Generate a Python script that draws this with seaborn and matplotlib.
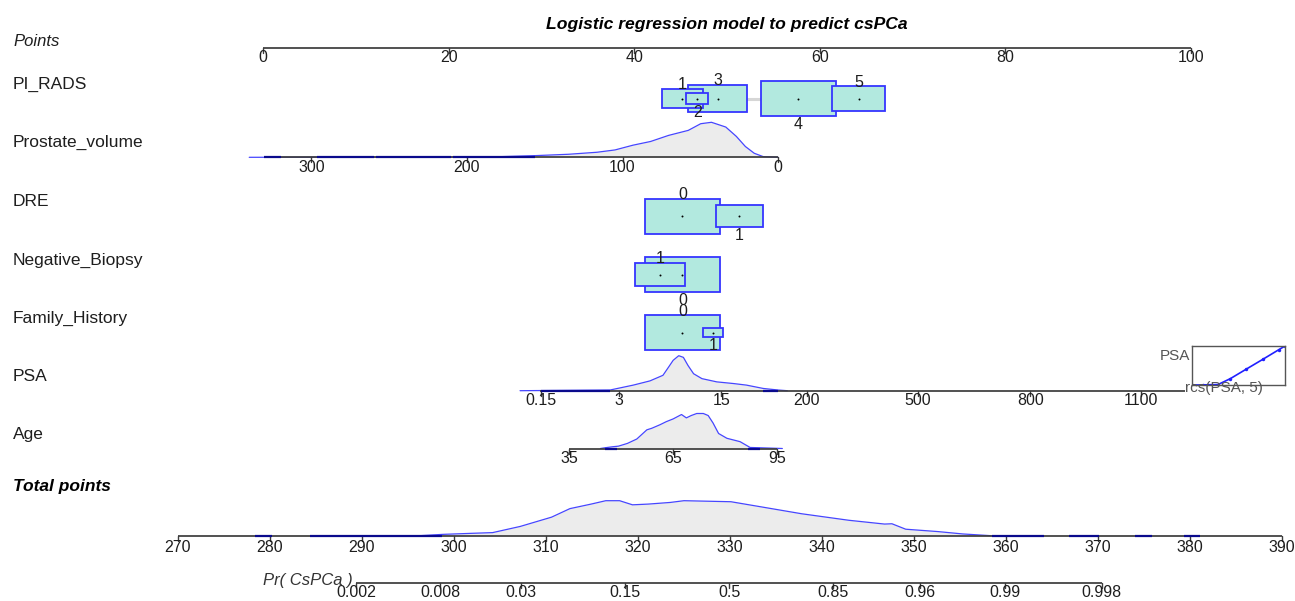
import numpy as np
import matplotlib
matplotlib.use("Agg")
import matplotlib.pyplot as plt
from matplotlib.patches import Rectangle
import seaborn as sns

# ---------------------------------------------------------------- data
title = "Logistic regression model to predict csPCa"
points_ticks = [0, 20, 40, 60, 80, 100]

# categorical predictors: level labels, point contribution, patient counts
pirads_levels = ["1", "2", "3", "4", "5"]
pirads_points = [45.2, 46.8, 49.0, 57.7, 64.2]
pirads_counts = [119, 34, 247, 400, 200]

dre_levels = ["0", "1"]
dre_points = [45.2, 51.3]
dre_counts = [718, 282]

biopsy_levels = ["0", "1"]
biopsy_points = [45.2, 42.8]
biopsy_counts = [692, 308]

family_levels = ["0", "1"]
family_points = [45.2, 48.5]
family_counts = [934, 66]

# prostate volume (ml), linear contribution
volume_ticks = [300, 200, 100, 0]
volume_range = [0, 330]
volume_points_at_zero = 55.5
volume_points_per_ml = -0.1676
volume_grid = [0, 9.6, 15.3, 21, 26.8, 33.6, 42.8, 49.7, 57.7, 70.4, 81.9,
               93.3, 104.8, 116.4, 134.7, 155.4, 185.2, 340]
volume_density = [0, 0.7, 4, 10.7, 20.7, 30, 34.7, 33.3, 26.7, 21.7, 15.7,
                  12, 7.3, 5, 3, 1.7, 0.3, 0]
volume_sparse = [(319.6, 330.5), (259.8, 296.6), (210.5, 258.7), (156.5, 209.3)]

# PSA, restricted cubic spline (5 knots) contribution
psa_ticks = [0.15, 3, 15, 200, 500, 800, 1100]
psa_tick_points = [30.0, 38.4, 49.4, 58.6, 70.6, 82.7, 94.6]
psa_range = [0.1, 1220]
psa_range_points = [29.9, 99.4]
psa_density_points = [27.7, 37.4, 39.9, 41.7, 43.1, 43.7, 44.2, 44.8, 45.3,
                      45.8, 46.4, 47.3, 48.9, 50.7, 52.1, 53.9, 55.5, 56.5]
psa_density = [0, 0.7, 5.7, 10, 15.7, 24, 31, 35.7, 34, 25.7, 17.3, 12.3,
               9, 7.3, 5.7, 2.3, 0.7, 0]
psa_sparse_points = [(30.0, 37.4), (53.9, 55.5)]

# age (years), linear contribution
age_ticks = [35, 65, 95]
age_range = [35, 95]
age_points_at_35 = 33.0
age_points_per_year = 0.3734
age_grid = [44, 45.3, 47.5, 49.2, 51.8, 54.5, 57.4, 58.8, 61.2, 63.0, 65,
            67.4, 68.8, 70.2, 71.8, 73.7, 75.1, 76.5, 78.1, 80.5, 84.3,
            87.2, 90.1, 96.5]
age_density = [0, 0.7, 1.7, 2.3, 5.0, 9.3, 18.3, 19.8, 23.3, 26.3, 29.0,
               33.3, 30.0, 32.3, 34.3, 34.3, 32.3, 25.0, 14.7, 10.0, 6.7,
               1.0, 0.7, 0]
age_sparse = [(45.3, 48.7), (86.5, 90.0)]

# total points
total_ticks = [270, 280, 290, 300, 310, 320, 330, 340, 350, 360, 370, 380, 390]
total_grid = [296.3, 298.8, 301.9, 304.2, 307.2, 310.6, 312.6, 314.9, 316.5,
              318.0, 319.4, 321.1, 323.5, 325.0, 330.1, 333.2, 337.8, 342.9,
              346.8, 347.6, 349.1, 352.6, 355.3, 358.4]
total_density = [0, 1.3, 2.3, 3, 9, 18, 26.3, 30.7, 34, 34, 30, 30.7, 32.3,
                 34, 33, 28.3, 21.3, 15, 11.3, 11.6, 6.3, 4, 1.7, 0]
total_sparse = [(278.4, 280.2), (284.4, 298.7), (358.5, 364.1),
                (366.8, 370.1), (374.0, 375.9), (379.4, 381.1)]

# predicted probability
prob_ticks = [0.002, 0.008, 0.03, 0.15, 0.5, 0.85, 0.96, 0.99, 0.998]
prob_total_at_half = 329.9
prob_total_per_logit = 6.52

# ---------------------------------------------------------------- layout / style
W, H, DPI = 1295, 601, 100
AX_LEFT_PX = 263.0
PX_PER_POINT = 9.28
TOTAL_X0 = -9.16          # total-points 270 on the points scale
TOTAL_STEP = 0.9914       # points-scale units per total point

ROW_Y = {"Points": 48, "PI_RADS": 98.5, "Prostate_volume": 157.3, "DRE": 216,
         "Negative_Biopsy": 274.5, "Family_History": 332.5, "PSA": 390.7,
         "Age": 448.5, "Total": 535.7, "Pr": 582.7}
PEAK_PX = 35.0
BOX_W_MAX = 8.08          # points-scale width of the largest box
BOX_H_MAX = 35.0

AXIS_COL = "#3c3c3c"
TEXT_COL = "#1e1e1e"
BOX_FILL = "#b2e9df"
BOX_EDGE = "#3535ff"
DENS_LINE = "#4646ff"
DENS_FILL = "#ececec"
SPARSE_COL = "#0a0a8c"
LABEL_FS = 12.5
TICK_FS = 11.5

sns.set_theme(style="white")
plt.rcParams["font.family"] = ["Liberation Sans", "DejaVu Sans"]

fig = plt.figure(figsize=(W / DPI, H / DPI), dpi=DPI)
ax = fig.add_axes([0, 0, 1, 1])
ax.set_xlim(-AX_LEFT_PX / PX_PER_POINT, (W - AX_LEFT_PX) / PX_PER_POINT)
ax.set_ylim(H, 0)
ax.axis("off")


def px_x(px):
    return (px - AX_LEFT_PX) / PX_PER_POINT


def draw_axis(x0, x1, y, tick_x, tick_labels, label_off=10.0):
    ax.plot([x0, x1], [y, y], color=AXIS_COL, lw=1.25, zorder=3,
            solid_capstyle="butt")
    for tx, lab in zip(tick_x, tick_labels):
        ax.plot([tx, tx], [y, y + 5], color=AXIS_COL, lw=1.0, zorder=3)
        ax.text(tx, y + label_off, lab, ha="center", va="center",
                fontsize=TICK_FS, color=TEXT_COL, zorder=5)


def draw_density(xs, hs, base, sparse_x=()):
    xs = np.asarray(xs, float)
    hs = np.asarray(hs, float)
    ys = base - hs * PEAK_PX / hs.max()
    ax.fill_between(xs, ys, base, color=DENS_FILL, lw=0, zorder=1)
    sns.lineplot(x=xs, y=ys, ax=ax, color=DENS_LINE, lw=0.9, sort=False,
                 estimator=None, zorder=2)
    for a, b in sparse_x:
        ax.plot([a, b], [base, base], color=SPARSE_COL, lw=1.6, zorder=4,
                solid_capstyle="butt")


def draw_boxes(pts, counts, levels, y):
    pts = np.asarray(pts, float)
    counts = np.asarray(counts, float)
    ax.plot([pts.min(), pts.max()], [y, y], color="#d6d6d6", lw=2.2, zorder=1)
    rel = np.sqrt(counts / counts.max())
    rank = np.argsort(np.argsort(pts))
    # largest box first, smaller ones stacked on top
    for k, i in enumerate(np.argsort(-counts)):
        w, h = BOX_W_MAX * rel[i], BOX_H_MAX * rel[i]
        z = 2 + 0.1 * k
        ax.add_patch(Rectangle((pts[i] - w / 2, y - h / 2), w, h,
                               facecolor=BOX_FILL, edgecolor=BOX_EDGE,
                               lw=1.3, zorder=z))
        ax.scatter([pts[i]], [y], s=2, color="black", zorder=4, linewidths=0)
        if rank[i] % 2 == 0:
            ax.text(pts[i], y - h / 2 + 0.5, levels[i], ha="center",
                    va="baseline", fontsize=TICK_FS, color=TEXT_COL, zorder=5)
        else:
            ax.text(pts[i], y + h / 2 + 1.0, levels[i], ha="center",
                    va="top", fontsize=TICK_FS, color=TEXT_COL, zorder=5)


# title
ax.text(50, 24, title, ha="center", va="center", fontsize=12.6,
        fontweight="bold", fontstyle="italic", color="black")

# row labels
LX = px_x(13)
ax.text(LX, 41, "Points", ha="left", va="center", fontsize=12,
        fontstyle="italic", color=TEXT_COL)
for name in ["PI_RADS", "Prostate_volume", "DRE", "Negative_Biopsy",
             "Family_History", "PSA", "Age"]:
    ax.text(LX, ROW_Y[name] - 14.5, name, ha="left", va="center",
            fontsize=LABEL_FS, color=TEXT_COL)
ax.text(LX, 487, "Total points", ha="left", va="center", fontsize=LABEL_FS,
        fontweight="bold", fontstyle="italic", color="black")

# points scale
draw_axis(points_ticks[0], points_ticks[-1], ROW_Y["Points"], points_ticks,
          [f"{v:g}" for v in points_ticks])

# categorical rows
draw_boxes(pirads_points, pirads_counts, pirads_levels, ROW_Y["PI_RADS"])
draw_boxes(dre_points, dre_counts, dre_levels, ROW_Y["DRE"])
draw_boxes(biopsy_points, biopsy_counts, biopsy_levels, ROW_Y["Negative_Biopsy"])
draw_boxes(family_points, family_counts, family_levels, ROW_Y["Family_History"])


# prostate volume
def vol_x(v):
    return volume_points_at_zero + volume_points_per_ml * np.asarray(v, float)


y = ROW_Y["Prostate_volume"]
draw_density(vol_x(volume_grid), volume_density, y,
             [(vol_x(a), vol_x(b)) for a, b in volume_sparse])
draw_axis(vol_x(volume_range[1]), vol_x(volume_range[0]), y, vol_x(volume_ticks),
          [f"{v:g}" for v in volume_ticks])

# PSA
y = ROW_Y["PSA"]
draw_density(psa_density_points, psa_density, y, psa_sparse_points)
draw_axis(psa_range_points[0], psa_range_points[1], y, psa_tick_points,
          [f"{v:g}" for v in psa_ticks])


# age
def age_x(a):
    return age_points_at_35 + age_points_per_year * (np.asarray(a, float) - 35)


y = ROW_Y["Age"]
draw_density(age_x(age_grid), age_density, y,
             [(age_x(a), age_x(b)) for a, b in age_sparse])
draw_axis(age_x(age_range[0]), age_x(age_range[1]), y, age_x(age_ticks),
          [f"{v:g}" for v in age_ticks])


# total points
def total_x(t):
    return TOTAL_X0 + TOTAL_STEP * (np.asarray(t, float) - 270)


y = ROW_Y["Total"]
draw_density(total_x(total_grid), total_density, y,
             [(total_x(a), total_x(b)) for a, b in total_sparse])
draw_axis(total_x(total_ticks[0]), total_x(total_ticks[-1]), y,
          total_x(total_ticks), [f"{v:g}" for v in total_ticks], label_off=12)

# probability scale
p = np.asarray(prob_ticks)
prob_total = prob_total_at_half + prob_total_per_logit * np.log(p / (1 - p))
y = ROW_Y["Pr"]
draw_axis(total_x(prob_total[0]), total_x(prob_total[-1]), y, total_x(prob_total),
          [f"{v:g}" for v in prob_ticks], label_off=10)
ax.text(px_x(263), 580, "Pr( CsPCa )", ha="left", va="center", fontsize=12,
        fontstyle="italic", color="#333333", zorder=6)

# PSA spline inset
ins = fig.add_axes([1192 / W, 1 - 385 / H, 93 / W, 39 / H])
ix = [psa_range_points[0]] + psa_tick_points + [psa_range_points[1]]
iy = [psa_range[0]] + psa_ticks + [psa_range[1]]
sns.lineplot(x=ix, y=iy, ax=ins, color="#2020ff", lw=1.2, marker="o",
             markersize=2.5, markeredgewidth=0, estimator=None)
ins.set_xlim(ix[0], ix[-1])
ins.set_ylim(iy[0], iy[-1])
ins.set_xticks([])
ins.set_yticks([])
ins.set_xlabel("")
ins.set_ylabel("")
ins.set_facecolor("none")
for s in ins.spines.values():
    s.set_color("#555555")
    s.set_linewidth(1.0)
fig.text(1190 / W, 1 - 356 / H, "PSA", ha="right", va="center",
         fontsize=11, color="#555555")
fig.text(1224 / W, 1 - 388 / H, "rcs(PSA, 5)", ha="center", va="center",
         fontsize=11, color="#555555")

fig.savefig("out.png", dpi=DPI)
